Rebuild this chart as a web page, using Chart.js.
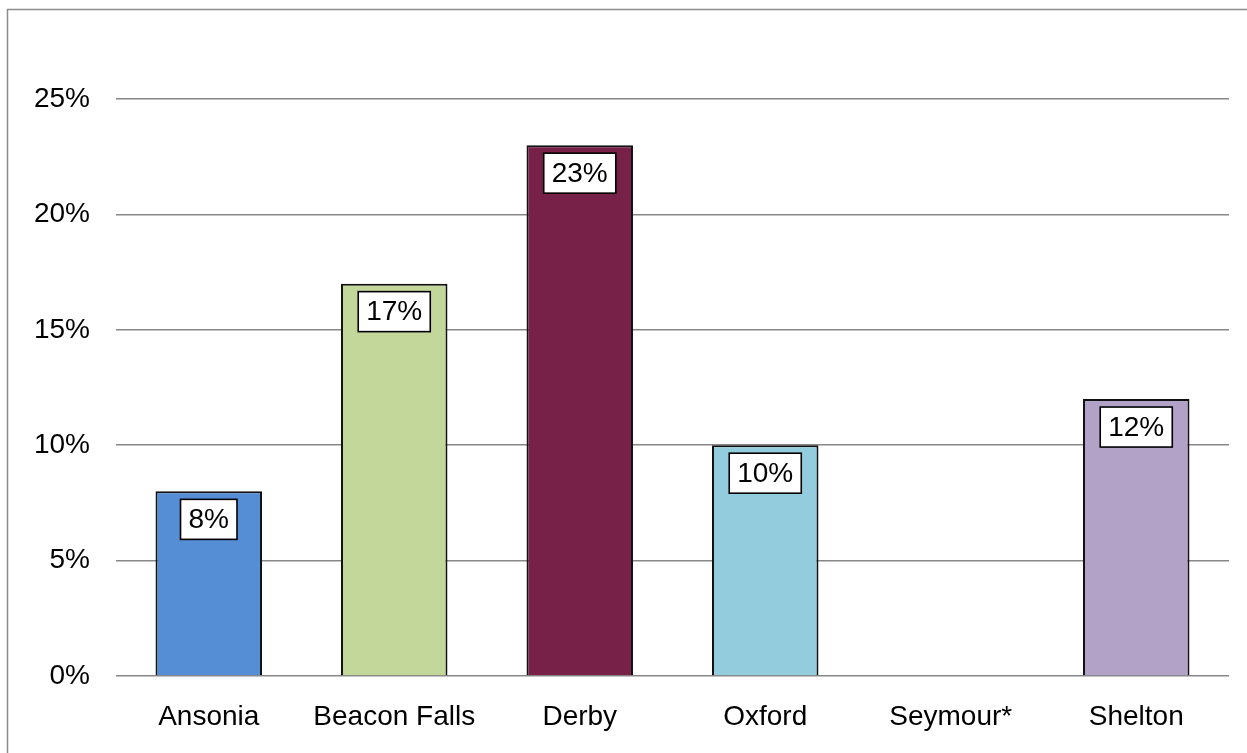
<!DOCTYPE html>
<html>
<head>
<meta charset="utf-8">
<script src="https://cdn.jsdelivr.net/npm/chart.js@4/dist/chart.umd.min.js"></script>
<style>
  html, body { margin: 0; padding: 0; background: #fff; }
  #wrap { position: relative; width: 1247px; height: 753px; }
</style>
</head>
<body>
<div id="wrap"><canvas id="c" width="1247" height="753"></canvas></div>
<script>
const categories = ["Ansonia", "Beacon Falls", "Derby", "Oxford", "Seymour*", "Shelton"];
const values = [8, 17, 23, 10, null, 12];
const barColors = ["#558ED5", "#C4D79B", "#772048", "#93CDDD", "#B2A2C7", "#B2A2C7"];
const yTicks = [0, 5, 10, 15, 20, 25];

const FONT = "'Liberation Sans', Arial, sans-serif";

const frame = {
  id: "frame",
  beforeDraw(chart) {
    const ctx = chart.ctx;
    ctx.save();
    ctx.fillStyle = "#fff";
    ctx.fillRect(0, 0, chart.width, chart.height);
    ctx.strokeStyle = "#8c8c8c";
    ctx.lineWidth = 1.5;
    ctx.beginPath();
    ctx.moveTo(7.5, chart.height + 2);
    ctx.lineTo(7.5, 9.5);
    ctx.lineTo(chart.width + 2, 9.5);
    ctx.stroke();
    ctx.restore();
  }
};

const boxLabels = {
  id: "boxLabels",
  afterDatasetsDraw(chart) {
    const ctx = chart.ctx;
    const meta = chart.getDatasetMeta(0);
    ctx.save();
    ctx.font = "28px " + FONT;
    ctx.textAlign = "center";
    ctx.textBaseline = "middle";
    meta.data.forEach((bar, i) => {
      const v = values[i];
      if (v === null || v === undefined) return;
      const txt = v + "%";
      const w = ctx.measureText(txt).width + 16;
      const h = 40;
      const x = bar.x - w / 2;
      const y = bar.y + 8;
      ctx.fillStyle = "#fff";
      ctx.fillRect(x, y, w, h);
      ctx.strokeStyle = "#000";
      ctx.lineWidth = 1.6;
      ctx.strokeRect(x, y, w, h);
      ctx.fillStyle = "#000";
      ctx.fillText(txt, bar.x, y + h / 2 + 1);
    });
    ctx.restore();
  }
};

new Chart(document.getElementById("c"), {
  type: "bar",
  data: {
    labels: categories,
    datasets: [{
      data: values,
      backgroundColor: barColors,
      borderColor: "#111",
      borderWidth: 2,
      borderSkipped: "bottom",
      barPercentage: 0.574,
      categoryPercentage: 1.0
    }]
  },
  options: {
    responsive: false,
    animation: false,
    devicePixelRatio: 1,
    layout: { padding: { top: 99, right: 18, left: 0, bottom: 0 } },
    plugins: { legend: { display: false }, tooltip: { enabled: false } },
    scales: {
      x: {
        grid: { display: false, drawTicks: false },
        border: { display: false },
        ticks: { color: "#000", font: { family: FONT, size: 28 }, padding: 24, maxRotation: 0, autoSkip: false },
        afterFit(s) { s.height = 77; }
      },
      y: {
        min: 0, max: 25,
        afterBuildTicks(s) { s.ticks = yTicks.map(v => ({ value: v })); },
        grid: { color: "#878787", lineWidth: 1.5, drawTicks: false },
        border: { display: false },
        ticks: { color: "#000", font: { family: FONT, size: 28 }, padding: 26, callback: v => v + "%" },
        afterFit(s) { s.width = 116; }
      }
    }
  },
  plugins: [frame, boxLabels]
});
</script>
</body>
</html>
